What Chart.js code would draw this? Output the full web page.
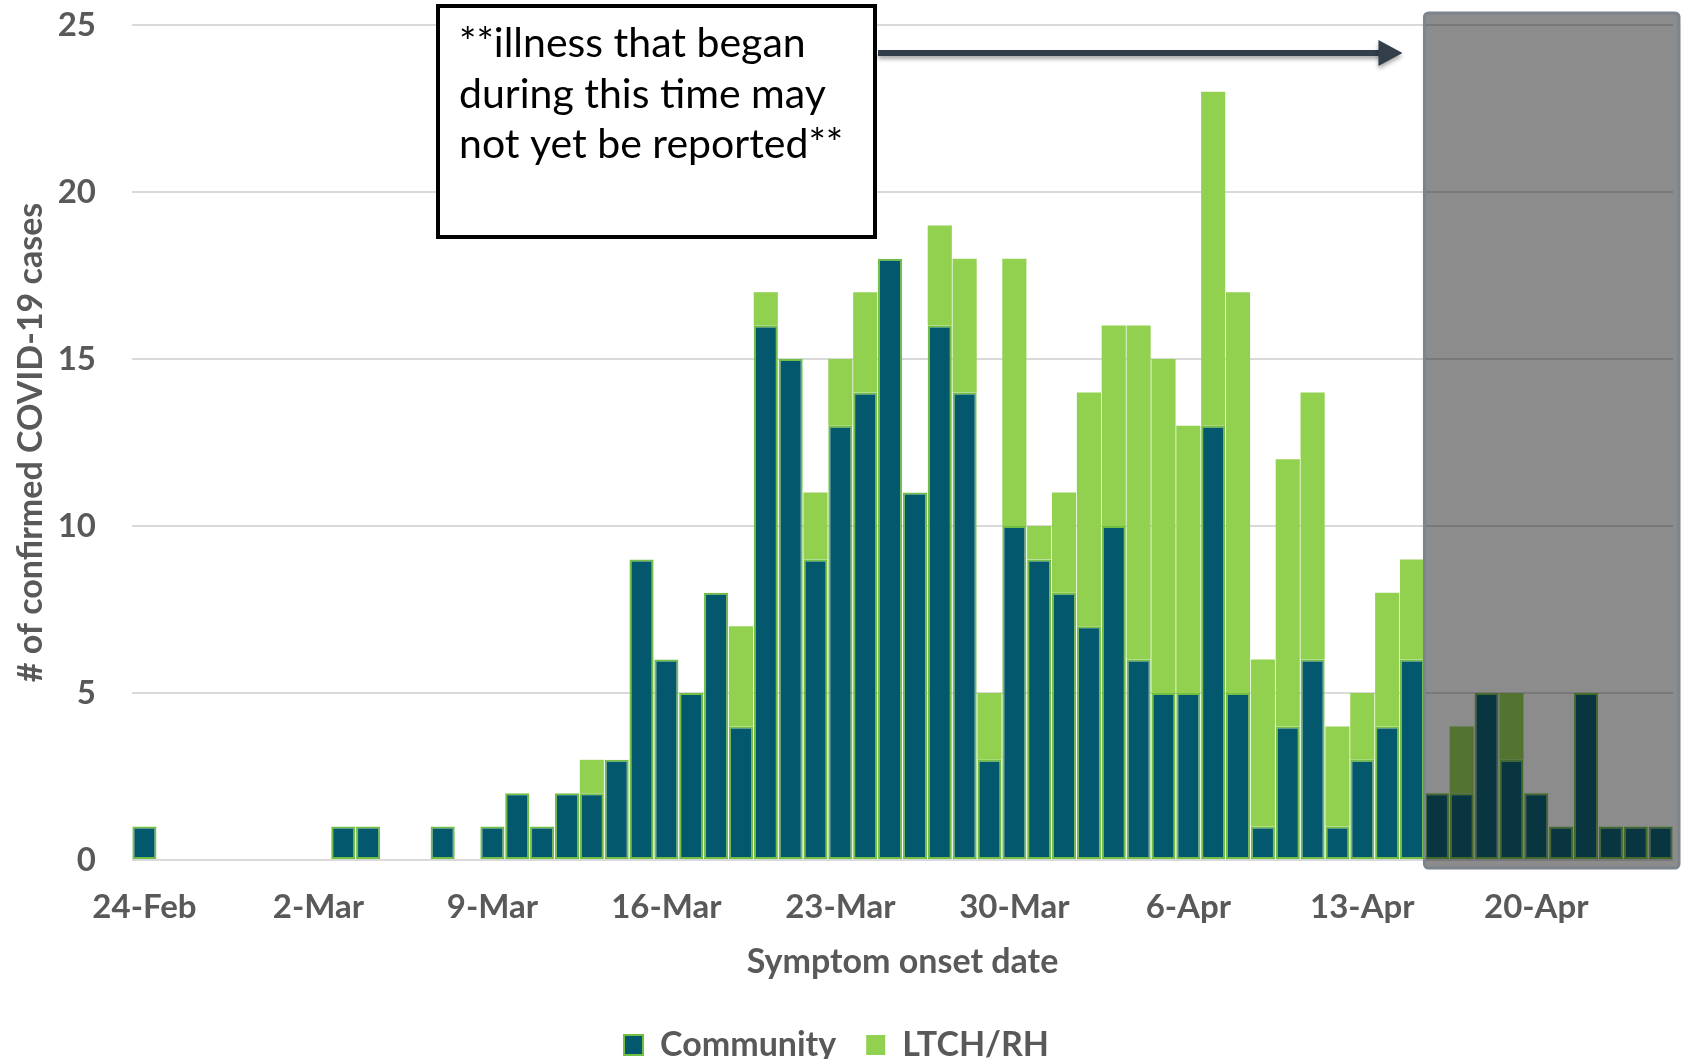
<!DOCTYPE html>
<html>
<head>
<meta charset="utf-8">
<title>Confirmed COVID-19 cases by symptom onset date</title>
<script src="https://cdn.jsdelivr.net/npm/chart.js@4.4.1/dist/chart.umd.min.js"></script>
<style>
  html, body { margin: 0; padding: 0; background: #ffffff; }
  #wrap { width: 1681px; height: 1063px; position: relative; }
</style>
</head>
<body>
<div id="wrap"><canvas id="onsetChart"></canvas></div>
<script>
// ================================
// Data
// ================================
const dates = [
  '24-Feb', '25-Feb', '26-Feb', '27-Feb', '28-Feb', '29-Feb',
  '1-Mar', '2-Mar', '3-Mar', '4-Mar', '5-Mar', '6-Mar', '7-Mar', '8-Mar', '9-Mar', '10-Mar',
  '11-Mar', '12-Mar', '13-Mar', '14-Mar', '15-Mar', '16-Mar', '17-Mar', '18-Mar', '19-Mar', '20-Mar',
  '21-Mar', '22-Mar', '23-Mar', '24-Mar', '25-Mar', '26-Mar', '27-Mar', '28-Mar', '29-Mar', '30-Mar', '31-Mar',
  '1-Apr', '2-Apr', '3-Apr', '4-Apr', '5-Apr', '6-Apr', '7-Apr', '8-Apr', '9-Apr', '10-Apr',
  '11-Apr', '12-Apr', '13-Apr', '14-Apr', '15-Apr', '16-Apr', '17-Apr', '18-Apr', '19-Apr', '20-Apr',
  '21-Apr', '22-Apr', '23-Apr', '24-Apr', '25-Apr'
];

const community = [
  1, 0, 0, 0, 0, 0,
  0, 0, 1, 1, 0, 0, 1, 0, 1, 2,
  1, 2, 2, 3, 9, 6, 5, 8, 4, 16,
  15, 9, 13, 14, 18, 11, 16, 14, 3, 10, 9,
  8, 7, 10, 6, 5, 5, 13, 5, 1, 4,
  6, 1, 3, 4, 6, 2, 2, 5, 3, 2,
  1, 5, 1, 1, 1
];

const ltch = [
  0, 0, 0, 0, 0, 0,
  0, 0, 0, 0, 0, 0, 0, 0, 0, 0,
  0, 0, 1, 0, 0, 0, 0, 0, 3, 1,
  0, 2, 2, 3, 0, 0, 3, 4, 2, 8, 1,
  3, 7, 6, 10, 10, 8, 10, 12, 5, 8,
  8, 3, 2, 4, 3, 0, 2, 0, 2, 0,
  0, 0, 0, 0, 0
];

const tickDates = ['24-Feb', '2-Mar', '9-Mar', '16-Mar', '23-Mar', '30-Mar', '6-Apr', '13-Apr', '20-Apr'];
const yTicks = [0, 5, 10, 15, 20, 25];

// illness in this window may not be reported yet
const shadeFrom = '16-Apr';
const noteLines = ['**illness that began', 'during this time may', 'not yet be reported**'];

// ================================
// Styles
// ================================
const TEAL = '#03586E';
const GREEN = '#92D050';
const EDGE = '#72BF44';
const GREY_TEXT = '#595959';
const FONT = 'Lato, "Open Sans", sans-serif';

// ================================
// Annotations (shaded window, note box, arrow)
// ================================
const annotationPlugin = {
  id: 'onsetNotes',
  afterDatasetsDraw(chart) {
    const { ctx, chartArea, scales: { x, y } } = chart;
    const half = (x.getPixelForValue(1) - x.getPixelForValue(0)) / 2;
    const left = x.getPixelForValue(dates.indexOf(shadeFrom)) - half;
    const right = chart.width - 2;
    const top = y.getPixelForValue(yTicks[yTicks.length - 1]) - 12;
    const bottom = y.getPixelForValue(0) + 8;

    ctx.save();
    ctx.beginPath();
    ctx.roundRect(left, top, right - left, bottom - top, 4);
    ctx.fillStyle = 'rgba(14, 14, 14, 0.48)';
    ctx.fill();
    ctx.lineWidth = 3;
    ctx.strokeStyle = '#7C848C';
    ctx.stroke();
    ctx.restore();

    // note box
    const boxL = chartArea.left + 306;
    const boxT = chartArea.top - 19;
    const boxW = 437;
    const boxH = 231;
    ctx.save();
    ctx.fillStyle = '#ffffff';
    ctx.fillRect(boxL, boxT, boxW, boxH);
    ctx.lineWidth = 4;
    ctx.strokeStyle = '#000000';
    ctx.strokeRect(boxL, boxT, boxW, boxH);
    ctx.fillStyle = '#000000';
    ctx.font = '41px ' + FONT;
    ctx.textBaseline = 'middle';
    noteLines.forEach((line, i) => {
      ctx.fillText(line, boxL + 21, boxT + 38 + i * 50.5);
    });
    ctx.restore();

    // arrow towards the shaded window
    const ay = chartArea.top + 28;
    const ax0 = boxL + boxW + 3;
    const ax1 = left - 22;
    ctx.save();
    ctx.shadowColor = 'rgba(0, 0, 0, 0.35)';
    ctx.shadowBlur = 4;
    ctx.shadowOffsetY = 3;
    ctx.strokeStyle = '#323E4A';
    ctx.fillStyle = '#323E4A';
    ctx.lineWidth = 6;
    ctx.beginPath();
    ctx.moveTo(ax0, ay);
    ctx.lineTo(ax1 - 20, ay);
    ctx.stroke();
    ctx.beginPath();
    ctx.moveTo(ax1 - 24, ay - 13);
    ctx.lineTo(ax1, ay);
    ctx.lineTo(ax1 - 24, ay + 13);
    ctx.closePath();
    ctx.fill();
    ctx.restore();
  }
};

// keep the bottom legend compact
const legendFitPlugin = {
  id: 'legendFit',
  beforeLayout(chart) {
    const lg = chart.legend;
    if (lg && !lg._fitPatched) {
      const fit = lg.fit.bind(lg);
      lg.fit = function () { fit(); this.height = 61; };
      lg._fitPatched = true;
    }
  }
};

// ================================
// Chart
// ================================
const onsetChart = new Chart(document.getElementById('onsetChart'), {
  type: 'bar',
  data: {
    labels: dates,
    datasets: [
      {
        label: 'Community',
        data: community.map(v => v || null),
        backgroundColor: TEAL,
        borderColor: EDGE,
        borderWidth: 2,
        borderSkipped: false
      },
      {
        label: 'LTCH/RH',
        data: ltch.map(v => v || null),
        backgroundColor: GREEN,
        borderWidth: 0
      }
    ]
  },
  options: {
    responsive: true,
    maintainAspectRatio: false,
    animation: false,
    datasets: { bar: { categoryPercentage: 1, barPercentage: 0.97 } },
    layout: { padding: { top: 25, left: 0, right: 8, bottom: 4 } },
    plugins: {
      tooltip: { enabled: false },
      legend: {
        position: 'bottom',
        labels: {
          color: GREY_TEXT,
          font: { family: FONT, size: 34, weight: 'bold' },
          boxWidth: 19,
          boxHeight: 20,
          padding: 30
        }
      }
    },
    scales: {
      x: {
        stacked: true,
        grid: { display: false, drawTicks: false },
        border: { display: false },
        ticks: {
          autoSkip: false,
          maxRotation: 0,
          padding: 28,
          color: GREY_TEXT,
          font: { family: FONT, size: 33, weight: 'bold' },
          callback: (v, i) => tickDates.includes(dates[i]) ? dates[i] : ''
        },
        title: {
          display: true,
          text: 'Symptom onset date',
          color: GREY_TEXT,
          font: { family: FONT, size: 34, weight: 'bold' },
          padding: { top: 0, bottom: 16 }
        },
        afterFit: scale => {
          scale.height = 138;
          scale.paddingLeft = 0;
          scale.paddingRight = 0;
        }
      },
      y: {
        stacked: true,
        min: 0,
        max: 25,
        grid: { color: '#D9D9D9', lineWidth: 2, drawTicks: false },
        border: { display: false },
        ticks: {
          stepSize: 5,
          padding: 36,
          color: GREY_TEXT,
          font: { family: FONT, size: 33, weight: 'bold' }
        },
        title: {
          display: true,
          text: '# of confirmed COVID-19 cases',
          color: GREY_TEXT,
          font: { family: FONT, size: 34, weight: 'bold' },
          padding: { top: 11, bottom: 0 }
        },
        afterFit: scale => {
          scale.width = 132;
          scale.paddingTop = 0;
          scale.paddingBottom = 0;
        }
      }
    }
  },
  plugins: [legendFitPlugin, annotationPlugin]
});
</script>
</body>
</html>
